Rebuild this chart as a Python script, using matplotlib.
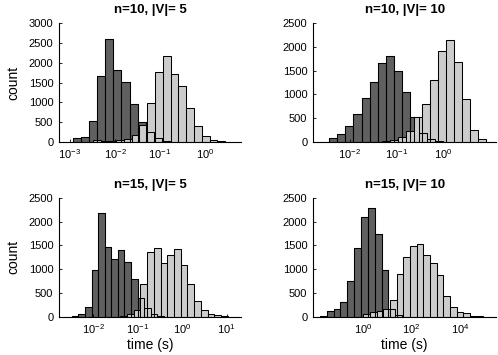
import numpy as np
import matplotlib
matplotlib.use('Agg')
import matplotlib.pyplot as plt
from matplotlib.ticker import FixedLocator, NullLocator, LogFormatterSciNotation

plt.rcParams['font.family'] = ['Liberation Sans', 'DejaVu Sans']
plt.rcParams['mathtext.default'] = 'regular'

# panel titles
titles = ['n=10, |V|= 5', 'n=10, |V|= 10', 'n=15, |V|= 5', 'n=15, |V|= 10']

# histograms: first bin edge (log10 s), bin width (decades), counts
dark_start = [-2.93, -2.621, -2.478, -1.793]
dark_width = [0.179, 0.174, 0.148, 0.283]
dark_counts = [
    [90, 120, 520, 1670, 2600, 1820, 1510, 966, 500, 240, 110, 30],
    [10, 83, 173, 345, 586, 917, 1254, 1667, 1812, 1496, 1041, 531, 194, 62, 20],
    [12, 55, 215, 990, 2170, 1465, 1226, 1395, 1160, 800, 400, 180, 70, 25],
    [20, 120, 170, 315, 750, 1450, 2100, 2275, 1750, 980, 170, 40, 10],
]

light_start = [-2.667, -1.49, -1.385, -0.273]
light_width = [0.173, 0.172, 0.1506, 0.2755]
light_counts = [
    [5, 50, 20, 25, 50, 80, 182, 435, 975, 1766, 2167, 1704, 1404, 864, 408, 150, 60, 22],
    [8, 20, 45, 110, 230, 525, 793, 1310, 1909, 2149, 1688, 897, 256, 70, 10],
    [15, 70, 150, 700, 1360, 1455, 1142, 1293, 1425, 1086, 700, 336, 140, 71, 35, 12, 5],
    [10, 70, 105, 130, 160, 350, 900, 1250, 1490, 1535, 1296, 1130, 876, 448, 218, 105, 88, 25, 15, 5],
]

# axis settings
xlims = [(-3.244, 0.8), (-2.79, 1.13), (-2.764, 1.326), (-2.08, 5.50)]
xtick_exps = [[-3, -2, -1, 0], [-2, -1, 0], [-2, -1, 0, 1], [0, 2, 4]]
ymax = [3000, 2500, 2500, 2500]

DARK = '#606060'
LIGHT = '#cccccc'

fig = plt.figure(figsize=(4.98, 3.55), dpi=100)
positions = [
    [0.1185, 0.600, 0.3655, 0.3352],
    [0.6285, 0.600, 0.3680, 0.3352],
    [0.1185, 0.107, 0.3655, 0.3360],
    [0.6285, 0.107, 0.3680, 0.3360],
]


def bar_hist(ax, start, width, counts, **kw):
    edges = 10.0 ** (start + width * np.arange(len(counts) + 1))
    ax.bar(edges[:-1], counts, width=np.diff(edges), align='edge', **kw)


for i in range(4):
    ax = fig.add_axes(positions[i])
    ax.set_xscale('log')

    bar_hist(ax, dark_start[i], dark_width[i], dark_counts[i],
             color=DARK, edgecolor='black', linewidth=0.75, zorder=1)
    bar_hist(ax, light_start[i], light_width[i], light_counts[i],
             color=LIGHT, edgecolor='black', linewidth=0.75, zorder=2)
    # outlines of the dark bars stay visible through the light ones
    bar_hist(ax, dark_start[i], dark_width[i], dark_counts[i],
             facecolor='none', edgecolor='black', linewidth=0.75, zorder=3)

    ax.set_xlim(10.0 ** xlims[i][0], 10.0 ** xlims[i][1])
    ax.set_ylim(0, ymax[i])
    ax.xaxis.set_major_locator(FixedLocator([10.0 ** e for e in xtick_exps[i]]))
    ax.xaxis.set_major_formatter(LogFormatterSciNotation())
    ax.xaxis.set_minor_locator(NullLocator())
    ax.set_yticks(np.arange(0, ymax[i] + 1, 500))

    for s in ['top', 'right']:
        ax.spines[s].set_visible(False)
    for s in ['left', 'bottom']:
        ax.spines[s].set_linewidth(0.8)
    ax.tick_params(direction='in', length=2, width=0.6, labelsize=8, pad=4)

    ax.set_title(titles[i], fontsize=9.5, fontweight='bold', pad=7)
    if i % 2 == 0:
        ax.set_ylabel('count', fontsize=10)
        ax.yaxis.set_label_coords(-0.215, 0.5)
    if i >= 2:
        ax.set_xlabel('time (s)', fontsize=10, labelpad=1)

fig.savefig('out.png', dpi=100)
